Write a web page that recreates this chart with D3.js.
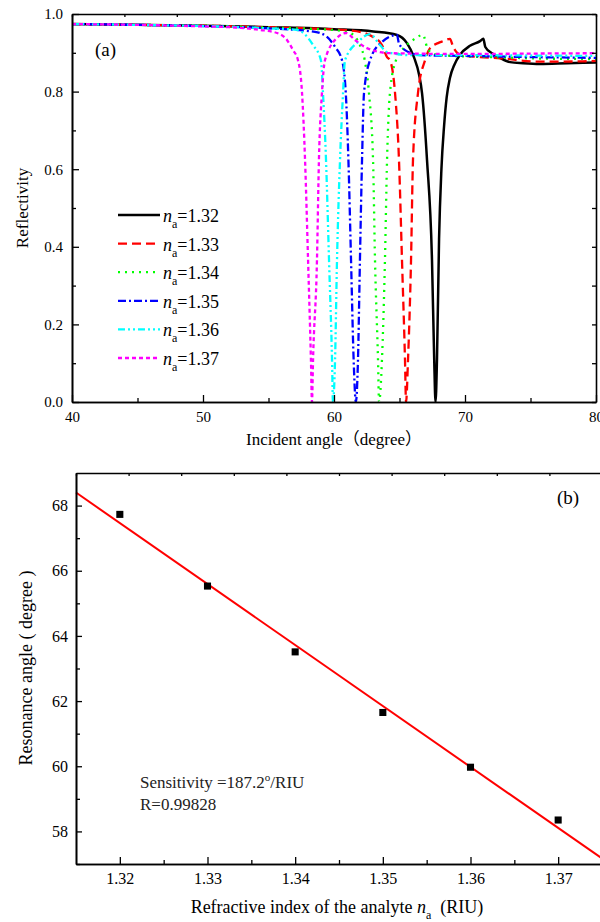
<!DOCTYPE html>
<html>
<head>
<meta charset="utf-8">
<script src="https://cdn.jsdelivr.net/npm/d3@7"></script>
<style>
body { margin: 0; background: #fff; }
svg { display: block; }
text { font-family: "Liberation Serif", "Times New Roman", serif; fill: #000; }
.axis path, .axis line { stroke: #000; }
.axis path { stroke-width: 1.6; }
.axis line { stroke-width: 1.3; }
</style>
</head>
<body>
<svg id="chart" width="600" height="922"></svg>
<script>
// panel (a): reflectivity curves
var labels = ["1.32", "1.33", "1.34", "1.35", "1.36", "1.37"];

var angle132 = [40, 45, 50, 55, 60, 63, 64.8, 65.57, 66.1, 66.5, 66.72, 67.1, 67.48, 67.65, 67.75, 67.86, 68.02, 68.2, 68.4, 68.6, 68.85, 69.2, 69.62, 70.38, 71.15, 71.4, 71.55, 72.06, 72.67, 73.44, 74.43, 75.7, 77.8, 80];
var refl132  = [0.974, 0.972, 0.970, 0.966, 0.961, 0.955, 0.946, 0.925, 0.889, 0.843, 0.796, 0.624, 0.366, 0.108, 0.0, 0.108, 0.42, 0.60, 0.71, 0.785, 0.835, 0.870, 0.895, 0.918, 0.930, 0.936, 0.915, 0.899, 0.887, 0.876, 0.873, 0.871, 0.873, 0.875];

var angle133 = [40, 45, 50, 55, 58, 61.37, 62.98, 63.66, 64.05, 64.27, 64.66, 64.96, 65.19, 65.42, 65.5, 65.65, 65.88, 66.03, 66.41, 66.95, 67.33, 67.94, 68.32, 68.85, 69.1, 69.4, 69.77, 71.15, 72.67, 75.7, 79, 80];
var refl133  = [0.974, 0.972, 0.970, 0.966, 0.963, 0.957, 0.941, 0.920, 0.889, 0.881, 0.796, 0.624, 0.366, 0.108, 0.0, 0.108, 0.366, 0.624, 0.796, 0.881, 0.912, 0.925, 0.930, 0.936, 0.915, 0.900, 0.894, 0.889, 0.886, 0.877, 0.878, 0.879];

var angle134 = [40, 45, 50, 55, 59.85, 61.22, 61.98, 62.35, 62.67, 62.98, 63.13, 63.36, 63.44, 63.66, 63.89, 64.05, 64.27, 64.73, 65.4, 66.03, 66.8, 67.1, 67.6, 69, 72, 76, 80];
var refl134  = [0.974, 0.972, 0.970, 0.965, 0.959, 0.951, 0.920, 0.880, 0.796, 0.624, 0.366, 0.108, 0.0, 0.108, 0.366, 0.624, 0.796, 0.881, 0.915, 0.933, 0.946, 0.915, 0.897, 0.892, 0.889, 0.885, 0.884];

var angle135 = [40, 45, 50, 55, 58.55, 59.47, 60.08, 60.61, 60.9, 61.1, 61.3, 61.5, 61.67, 61.83, 61.98, 62.14, 62.29, 62.75, 63.66, 64.81, 64.95, 65.42, 66.56, 70, 75, 80];
var refl135  = [0.974, 0.972, 0.969, 0.963, 0.954, 0.941, 0.915, 0.881, 0.796, 0.624, 0.366, 0.108, 0.0, 0.108, 0.366, 0.624, 0.796, 0.881, 0.928, 0.946, 0.925, 0.907, 0.894, 0.892, 0.889, 0.887];

var angle136 = [40, 45, 50, 55, 57.18, 58.4, 59.0, 59.16, 59.39, 59.62, 59.85, 59.92, 60.08, 60.23, 60.46, 60.69, 60.84, 61.83, 62.75, 63.51, 64.05, 65.8, 70, 75, 80];
var refl136  = [0.974, 0.972, 0.969, 0.963, 0.959, 0.920, 0.881, 0.796, 0.624, 0.366, 0.108, 0.0, 0.108, 0.366, 0.624, 0.796, 0.881, 0.928, 0.948, 0.920, 0.902, 0.894, 0.894, 0.893, 0.892];

var angle137 = [40, 45, 50, 52, 54.35, 55.65, 56.41, 56.87, 57.25, 57.56, 57.79, 58.02, 58.24, 58.32, 58.40, 58.70, 58.85, 59.08, 59.31, 60.31, 60.92, 61.6, 62.52, 64.27, 70, 75, 80];
var refl137  = [0.974, 0.972, 0.968, 0.966, 0.959, 0.951, 0.933, 0.907, 0.881, 0.796, 0.624, 0.366, 0.108, 0.0, 0.108, 0.366, 0.624, 0.796, 0.881, 0.941, 0.951, 0.933, 0.912, 0.899, 0.897, 0.898, 0.899];

// panel (b): resonance angle vs analyte index
var riu = [1.32, 1.33, 1.34, 1.35, 1.36, 1.37];
var resAngle = [67.73, 65.53, 63.51, 61.65, 59.97, 58.35];
var fitRiu = [1.315, 1.375];
var fitAngle = [68.40, 57.17];

var xTicksA = [40, 50, 60, 70, 80];
var yTicksA = [0.0, 0.2, 0.4, 0.6, 0.8, 1.0];
var xTicksB = [1.32, 1.33, 1.34, 1.35, 1.36, 1.37];
var yTicksB = [58, 60, 62, 64, 66, 68];

// styles
var colors = ["#000000", "#ff0000", "#00ff00", "#0000ff", "#00ffff", "#ff00ff"];
var dashes = [null, "9,5", "2,5", "8,3,2,3", "7,3,2,3,2,3", "4,3"];
var widths = [2.5, 2.3, 2.3, 2.3, 2.3, 2.3];

var curves = [
    [angle132, refl132], [angle133, refl133], [angle134, refl134],
    [angle135, refl135], [angle136, refl136], [angle137, refl137]
];

var svg = d3.select("#chart");

function tenths(s) {
    var d = s.domain();
    return d3.range(0, 11).map((i) => d[0] + i * (d[1] - d[0]) / 10);
}

function mids(t) {
    return t.slice(1).map((v, i) => (v + t[i]) / 2);
}

// ---------- panel (a)
var xA = d3.scaleLinear([40, 80], [72, 596]);
var yA = d3.scaleLinear([0, 1], [402, 14]);
var gA = svg.append("g");

gA.append("clipPath").attr("id", "clipA").append("rect")
    .attr("x", 72).attr("y", 14).attr("width", 524).attr("height", 389);

var line = d3.line().curve(d3.curveMonotoneX).x((d) => xA(d[0])).y((d) => yA(d[1]));

gA.append("g").attr("clip-path", "url(#clipA)")
    .selectAll("path").data(curves).enter().append("path")
    .attr("d", (c) => line(c[0].map((a, i) => [a, c[1][i]])))
    .attr("fill", "none")
    .attr("stroke", (c, i) => colors[i])
    .attr("stroke-width", (c, i) => widths[i])
    .attr("stroke-dasharray", (c, i) => dashes[i]);

gA.append("g").attr("class", "axis").attr("transform", "translate(0,402)")
    .call(d3.axisBottom(xA).tickValues(xTicksA).tickSize(-7).tickSizeOuter(0).tickPadding(9).tickFormat(d3.format("d")))
    .call((g) => g.selectAll("text").style("font-size", "15px").style("font-family", null));
gA.append("g").attr("class", "axis").attr("transform", "translate(0,402)")
    .call(d3.axisBottom(xA).tickValues(mids(xTicksA)).tickSize(-4).tickSizeOuter(0).tickFormat(""));
gA.append("g").attr("class", "axis").attr("transform", "translate(0,14)")
    .call(d3.axisTop(xA).tickValues(tenths(xA)).tickSize(-3).tickSizeOuter(0).tickFormat(""));
gA.append("g").attr("class", "axis").attr("transform", "translate(72,0)")
    .call(d3.axisLeft(yA).tickValues(yTicksA).tickSize(-7).tickSizeOuter(0).tickPadding(9).tickFormat(d3.format(".1f")))
    .call((g) => g.selectAll("text").style("font-size", "15px").style("font-family", null));
gA.append("g").attr("class", "axis").attr("transform", "translate(72,0)")
    .call(d3.axisLeft(yA).tickValues(mids(yTicksA)).tickSize(-4).tickSizeOuter(0).tickFormat(""));
gA.append("g").attr("class", "axis").attr("transform", "translate(596,0)")
    .call(d3.axisRight(yA).tickValues(tenths(yA)).tickSize(-4).tickSizeOuter(0).tickFormat(""));

gA.append("text").attr("x", 95).attr("y", 56).style("font-size", "19px").text("(a)");

gA.append("text").attr("x", 334).attr("y", 445).attr("text-anchor", "middle")
    .style("font-size", "17px")
    .style("font-family", '"Liberation Serif", "Noto Sans CJK SC", serif')
    .text("Incident angle（degree）");
gA.append("text").attr("transform", "translate(28,208) rotate(-90)").attr("text-anchor", "middle")
    .style("font-size", "17px").text("Reflectivity");

// legend
var leg = gA.selectAll("g.leg").data(labels).enter().append("g").attr("class", "leg")
    .attr("transform", (d, i) => "translate(0," + (215 + i * 28.6) + ")");
leg.append("line").attr("x1", 118).attr("x2", 160)
    .attr("stroke", (d, i) => colors[i])
    .attr("stroke-width", (d, i) => widths[i])
    .attr("stroke-dasharray", (d, i) => dashes[i]);
var lt = leg.append("text").attr("x", 163).attr("y", 7).style("font-size", "18px");
lt.append("tspan").style("font-style", "italic").text("n");
lt.append("tspan").attr("dy", 6).style("font-size", "12px").text("a");
lt.append("tspan").attr("dy", -6).text((d) => "=" + d);

// ---------- panel (b)
var xB = d3.scaleLinear([1.315, 1.375], [76, 602]);
var yB = d3.scaleLinear([57, 69], [864, 473]);
var gB = svg.append("g");

gB.append("line")
    .attr("x1", xB(fitRiu[0])).attr("y1", yB(fitAngle[0]))
    .attr("x2", xB(fitRiu[1])).attr("y2", yB(fitAngle[1]))
    .attr("stroke", "#ff0000").attr("stroke-width", 2);

gB.selectAll("path.pt").data(riu).enter().append("path").attr("class", "pt")
    .attr("d", d3.symbol(d3.symbolSquare, 50))
    .attr("transform", (d, i) => "translate(" + xB(d) + "," + yB(resAngle[i]) + ")")
    .attr("fill", "#000");

gB.append("g").attr("class", "axis").attr("transform", "translate(0,864)")
    .call(d3.axisBottom(xB).tickValues(xTicksB).tickSize(-7).tickSizeOuter(0).tickPadding(9).tickFormat(d3.format(".2f")))
    .call((g) => g.selectAll("text").style("font-size", "16px").style("font-family", null));
gB.append("g").attr("class", "axis").attr("transform", "translate(0,864)")
    .call(d3.axisBottom(xB).tickValues(mids(xTicksB)).tickSize(-4).tickSizeOuter(0).tickFormat(""));
gB.append("g").attr("class", "axis").attr("transform", "translate(0,473)")
    .call(d3.axisTop(xB).tickValues(tenths(xB)).tickSize(-3).tickSizeOuter(0).tickFormat(""));
gB.append("g").attr("class", "axis").attr("transform", "translate(76,0)")
    .call(d3.axisLeft(yB).tickValues(yTicksB).tickSize(-6).tickSizeOuter(0).tickPadding(8).tickFormat(d3.format("d")))
    .call((g) => g.selectAll("text").style("font-size", "16px").style("font-family", null));
gB.append("g").attr("class", "axis").attr("transform", "translate(76,0)")
    .call(d3.axisLeft(yB).tickValues([57, 59, 61, 63, 65, 67]).tickSize(-4).tickSizeOuter(0).tickFormat(""));

gB.append("text").attr("x", 557).attr("y", 504).style("font-size", "19px").text("(b)");

var st = gB.append("text").attr("x", 140).attr("y", 788).style("font-size", "17px").style("fill", "#222");
st.append("tspan").text("Sensitivity =187.2");
st.append("tspan").attr("dy", -7).style("font-size", "11px").text("o");
st.append("tspan").attr("dy", 7).text("/RIU");
gB.append("text").attr("x", 140).attr("y", 810).style("font-size", "17px").style("fill", "#222").text("R=0.99828");

var xl = gB.append("text").attr("x", 337).attr("y", 913).attr("text-anchor", "middle").style("font-size", "18px");
xl.append("tspan").text("Refractive index of the analyte ");
xl.append("tspan").style("font-style", "italic").text("n");
xl.append("tspan").attr("dy", 6).style("font-size", "12px").text("a");
xl.append("tspan").attr("dy", -6).text("\u00a0\u00a0(RIU)");

gB.append("text").attr("transform", "translate(32,668) rotate(-90)").attr("text-anchor", "middle")
    .style("font-size", "18px").text("Resonance angle ( degree )");
</script>
</body>
</html>
